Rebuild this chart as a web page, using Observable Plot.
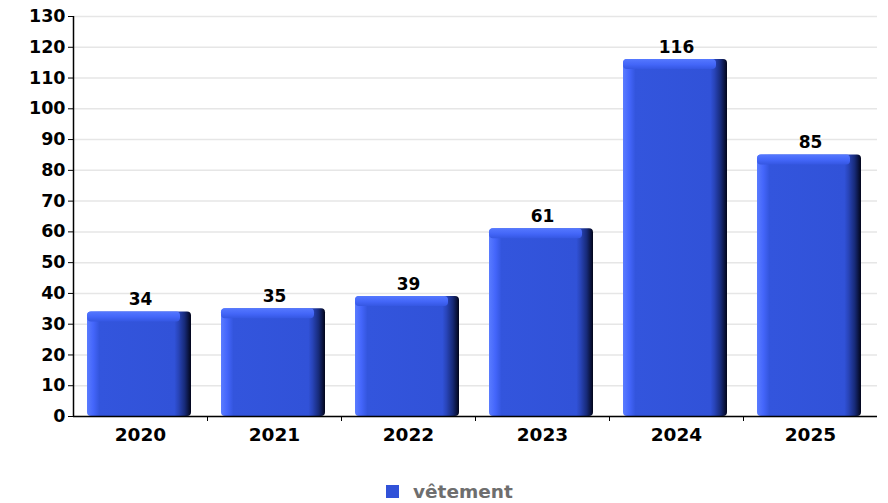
<!DOCTYPE html>
<html><head><meta charset="utf-8">
<script src="https://cdn.jsdelivr.net/npm/d3@7"></script>
<script src="https://cdn.jsdelivr.net/npm/@observablehq/plot@0.6"></script>
<style>
body{margin:0;background:#fff;font-family:"DejaVu Sans",sans-serif;}
#legend{position:relative;height:43px;}
#legend .item{position:absolute;left:386px;top:21px;display:flex;align-items:center;font-weight:bold;font-size:18.5px;color:#6e6e6e;}
#legend .sw{width:13px;height:13px;background:#3152d8;margin-right:14px;}
</style>
</head><body>
<div id="chart"></div>
<div id="legend"><div class="item"><span class="sw"></span><span id="lbl"></span></div></div>
<script>
const years = [2020, 2021, 2022, 2023, 2024, 2025];
const values = [34, 35, 39, 61, 116, 85];
const seriesName = "vêtement";
const yTicks = [0,10,20,30,40,50,60,70,80,90,100,110,120,130];
const yDomain = [0, 130];
const xDomain = [2019.5, 2025.5];
const xBoundaries = [2020.5, 2021.5, 2022.5, 2023.5, 2024.5];

const data = years.map((y, i) => ({year: y, value: values[i]}));

const plot = Plot.plot({
  width: 888,
  height: 460,
  marginLeft: 73,
  marginRight: 11,
  marginTop: 16,
  marginBottom: 44,
  style: {fontFamily: "DejaVu Sans", fontWeight: "bold", fontSize: "17px", color: "#000", background: "#fff"},
  x: {domain: xDomain, axis: null, label: null},
  y: {domain: yDomain, axis: null, label: null},
  marks: [
    Plot.gridY(yTicks, {stroke: "#e6e6e6", strokeOpacity: 1, strokeWidth: 1.5}),
    Plot.rectY(data, {x1: d => d.year - 0.5, x2: d => d.year + 0.5, y1: 0, y2: "value",
      insetLeft: 14, insetRight: 16, fill: "url(#gFront)", rx: 4}),
    Plot.rectY(data, {x1: d => d.year - 0.5, x2: d => d.year + 0.5, y1: "value", y2: "value",
      insetLeft: 14, insetRight: 27, insetBottom: -10, fill: "url(#gTop)", rx: 4}),
    Plot.axisY(yTicks, {label: null, tickSize: 5, tickPadding: 3, fontSize: 17.5, fontWeight: "bold", fill: "#000", stroke: "#000"}),
    Plot.axisX(years, {label: null, tickSize: 0, tickPadding: 11, fontSize: 18.5, fontWeight: "bold", fill: "#000", tickFormat: d => String(d)}),
    Plot.axisX(xBoundaries, {label: null, tickSize: 5, text: null, stroke: "#000"}),
    Plot.ruleX([xDomain[0]], {stroke: "#000", strokeWidth: 1.5}),
    Plot.ruleY([0], {stroke: "#000", strokeWidth: 1.5}),
    Plot.text(data, {x: "year", y: "value", text: d => String(d.value), dy: -7, lineAnchor: "bottom",
      fontSize: 17, fontWeight: "bold", fill: "#000"})
  ]
});

const svg = d3.select(plot);
const defs = svg.insert("defs", ":first-child");
const gF = defs.append("linearGradient").attr("id", "gFront").attr("x1", 0).attr("x2", 1).attr("y1", 0).attr("y2", 0);
[["0%", "#5a7cff"], ["6%", "#4466fb"], ["12%", "#3355dd"], ["84%", "#3152d8"], ["88%", "#2844b8"], ["94%", "#172a78"], ["100%", "#02051a"]]
  .forEach(([o, c]) => gF.append("stop").attr("offset", o).attr("stop-color", c));
const gT = defs.append("linearGradient").attr("id", "gTop").attr("x1", 0).attr("x2", 0).attr("y1", 0).attr("y2", 1);
[["0%", "#5578ff"], ["55%", "#4366f8"], ["100%", "#3557e2"]]
  .forEach(([o, c]) => gT.append("stop").attr("offset", o).attr("stop-color", c));

document.getElementById("chart").appendChild(plot);
document.getElementById("lbl").textContent = seriesName;
</script>
</body></html>
